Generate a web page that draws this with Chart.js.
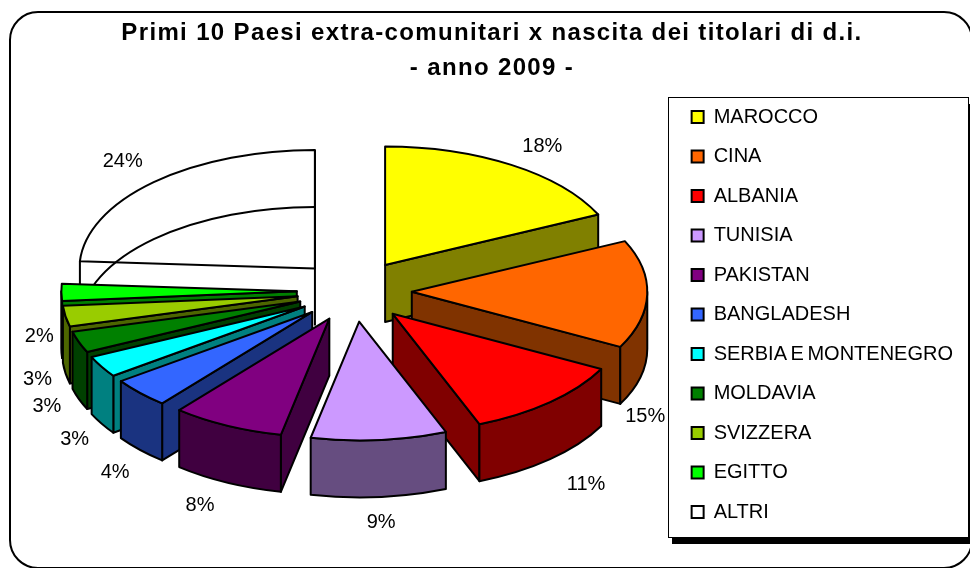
<!DOCTYPE html>
<html><head><meta charset="utf-8">
<style>html,body{margin:0;padding:0;background:#fff}canvas{display:block}</style>
<script src="https://cdn.jsdelivr.net/npm/chart.js@4"></script>
</head><body>
<canvas id="c" width="970" height="568"></canvas>
<script>
const categories = ['MAROCCO','CINA','ALBANIA','TUNISIA','PAKISTAN','BANGLADESH','SERBIA E MONTENEGRO','MOLDAVIA','SVIZZERA','EGITTO','ALTRI'];
const percentages = [18,14.7,11.3,9.3,7.7,4.1,2.9,2.9,2.8,2.3,24];
const sliceColors = ['#FFFF00','#FF6600','#FF0000','#CC99FF','#800080','#3366FF','#00FFFF','#008000','#99CC00','#00FF00','#FFFFFF'];
const titleLines = ['Primi 10 Paesi extra-comunitari x nascita dei titolari di d.i.','- anno 2009 -'];
// nudges of the value labels from each slice's outer point
const labelNudges = [[31,-20],[-2,122],[36,84],[2,84],[-27,81],[-25,81],[-27,74],[-32,65],[-28,64],[-22,44],[-31,-22]];

const PIE = {cx:354.3, cy:291, squash:0.504, explodeSquash:0.534, depth:57, radius:235.5, explode:57.5};
const FONT = '"Liberation Sans", Arial, sans-serif';
Chart.defaults.font.family = FONT;
Chart.defaults.color = '#000';

const halve = h => '#' + [1,3,5].map(i => Math.round(parseInt(h.substr(i,2),16)/2).toString(16).padStart(2,'0')).join('');

const wrapDraw = (box, prop, val) => {
  const o = box.draw;
  box.draw = function(area){ const c=this.ctx; c.save(); c[prop]=val; o.call(this,area); c.restore(); };
};

const pie3d = {
  id:'pie3d',
  afterLayout(chart){
    if(!chart.$wrapped){
      chart.$wrapped = true;
      wrapDraw(chart.titleBlock,'letterSpacing','1.35px');
      wrapDraw(chart.legend,'wordSpacing','-2px');
    }
  },
  beforeDraw(chart){
    const c = chart.ctx;
    c.save();
    c.fillStyle='#fff'; c.fillRect(0,0,970,568);
    c.strokeStyle='#000'; c.lineWidth=2;
    c.beginPath(); c.roundRect(10,12,962,556,28); c.stroke();
    c.fillStyle='#000'; c.fillRect(672,104,300,440);
    c.fillStyle='#fff'; c.fillRect(668.5,97.5,300,440);
    c.lineWidth=1; c.strokeStyle='#000'; c.strokeRect(668.5,97.5,300,440);
    c.restore();
  },
  beforeDatasetDraw(chart,args){
    const c = chart.ctx, arcs = args.meta.data;
    const {squash:k, explodeSquash:ke, depth:D, explode:E} = PIE;
    const info = arcs.map((a,i)=>{
      const p = a.getProps(['x','y','startAngle','endAngle','outerRadius']);
      const mid = (p.startAngle+p.endAngle)/2;
      return {a,i,p,mid,ox:Math.cos(mid)*E,oy:Math.sin(mid)*E*ke/k,
        ax:PIE.cx+Math.cos(mid)*E, ay:PIE.cy+Math.sin(mid)*E*ke, R:p.outerRadius};
    });
    const order = info.slice().sort((u,v)=>Math.sin(u.mid)-Math.sin(v.mid));
    c.save();
    c.lineWidth=2; c.lineJoin='round'; c.strokeStyle='#000';
    for(const s of order){
      const {a,p,ax,ay,R} = s;
      const col = sliceColors[s.i], hollow = col==='#FFFFFF', wall = halve(col);
      const f0=p.startAngle, f1=p.endAngle;
      const pt = f=>[ax+R*Math.cos(f), ay+R*k*Math.sin(f)];
      const quad = f=>{ const q=pt(f);
        c.beginPath(); c.moveTo(ax,ay); c.lineTo(q[0],q[1]); c.lineTo(q[0],q[1]+D); c.lineTo(ax,ay+D); c.closePath();
        c.fillStyle=wall; c.fill(); c.stroke(); };
      const top = ()=>{
        c.save();
        c.translate(PIE.cx, PIE.cy); c.scale(1,k); c.translate(s.ox-p.x,s.oy-p.y);
        a.draw(c);
        c.restore();
        c.beginPath(); c.moveTo(ax,ay); c.ellipse(ax,ay,R,R*k,0,f0,f1); c.closePath(); c.stroke();
      };
      if(hollow){
        top();
        const q0=pt(f0), q1=pt(f1);
        c.beginPath(); c.ellipse(ax,ay+D,R,R*k,0,f0,f1); c.stroke();
        c.beginPath(); c.moveTo(q0[0],q0[1]); c.lineTo(q0[0],q0[1]+D);
        c.moveTo(q1[0],q1[1]); c.lineTo(ax,ay+D); c.stroke();
        continue;
      }
      if(Math.cos(f1)>0) quad(f1);
      if(Math.cos(f0)<0) quad(f0);
      const lo=Math.max(f0,0), hi=Math.min(f1,Math.PI);
      if(hi>lo){
        c.beginPath(); c.ellipse(ax,ay,R,R*k,0,lo,hi);
        c.ellipse(ax,ay+D,R,R*k,0,hi,lo,true); c.closePath();
        c.fillStyle=wall; c.fill(); c.stroke();
      }
      top();
    }
    // value labels
    c.fillStyle='#000'; c.font='20px '+FONT; c.textAlign='center'; c.textBaseline='middle';
    for(const s of info){
      const r = s.R+E;
      const x = PIE.cx + r*Math.cos(s.mid) + labelNudges[s.i][0];
      const y = PIE.cy + r*k*Math.sin(s.mid) + labelNudges[s.i][1];
      c.fillText(Math.round(percentages[s.i])+'%', x, y);
    }
    c.restore();
    return false;
  }
};

new Chart(document.getElementById('c'),{
  type:'pie',
  data:{labels:categories,datasets:[{data:percentages,backgroundColor:sliceColors,borderWidth:0}]},
  options:{
    responsive:false, animation:false, radius:PIE.radius,
    layout:{padding:{left:17,top:16,right:3,bottom:0}},
    plugins:{
      tooltip:{enabled:false},
      title:{display:true,text:titleLines,color:'#000',font:{size:24,weight:'bold',lineHeight:1.46},padding:{top:0,bottom:1.5}},
      legend:{position:'right',align:'start',fullSize:false,
        labels:{font:{size:20},boxWidth:12,boxHeight:12,padding:19.5,color:'#000',
          generateLabels(chart){
            return Chart.overrides.doughnut.plugins.legend.labels.generateLabels(chart)
              .map(l=>Object.assign(l,{strokeStyle:'#000',lineWidth:2}));
          }}}
    }
  },
  plugins:[pie3d]
});
</script>
</body></html>
